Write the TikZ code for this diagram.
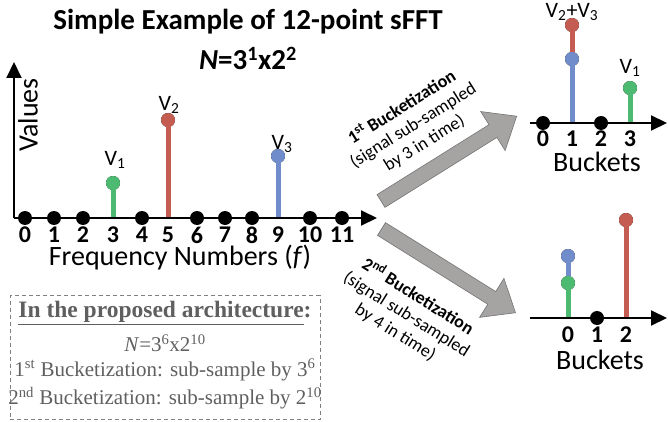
\documentclass[tikz,border=0pt]{standalone}
\usepackage{fontspec}
\setmainfont{Carlito}
\newfontfamily\boxfont{Liberation Serif}
\usetikzlibrary{arrows.meta,positioning}
\definecolor{vred}{RGB}{197,92,82}
\definecolor{vblue}{RGB}{112,140,202}
\definecolor{vgreen}{RGB}{76,186,112}
\definecolor{arrgray}{RGB}{166,163,163}
\definecolor{boxgray}{RGB}{95,95,95}
\begin{document}
\begin{tikzpicture}[x=1pt,y=1pt,
axis/.style={line width=2pt,-{Triangle[length=16pt,width=15pt]}},
dot/.style={circle,fill=black,inner sep=0pt,minimum size=14pt},
stem/.style={line width=5pt},
ticklbl/.style={font=\fontsize{24}{24}\selectfont\bfseries,inner sep=0pt},
vlbl/.style={font=\fontsize{22}{22}\selectfont,inner sep=0pt},
biglbl/.style={font=\fontsize{28}{28}\selectfont,inner sep=0pt},
arrtxt/.style={font=\fontsize{18}{21}\selectfont,align=center,inner sep=0pt},
bigarrow/.style={fill=arrgray,draw=black!55,line width=0.6pt},
boxtxt/.style={font=\boxfont\fontsize{21}{21}\selectfont,text=boxgray,inner sep=0pt}
]
\useasboundingbox (0,0) rectangle (668,421);

% title
\node[font=\fontsize{29}{29}\selectfont\bfseries] (title) at (248,399) {Simple Example of 12-point sFFT};
\node[font=\fontsize{29}{29}\selectfont\bfseries] (nval) at (248,363) {\textit{N}=3\textsuperscript{1}x2\textsuperscript{2}};

% frequency axis
\coordinate (o) at (14,203);
\coordinate (xend) at (377,203);
\coordinate (yend) at (14,359);
\foreach \i/\x in {0/25,1/54,2/83,3/113,4/142,5/168,6/197,7/225,8/252,9/278,10/310,11/342}{
  \coordinate (f\i) at (\x,203);
  \node[ticklbl] (t\i) at (\x,186) {\i};
}
\node[dot] (v1) at (113,238) {};
\node[dot] (v2) at (168,301) {};
\node[dot] (v3) at (278,265) {};
\draw[stem,vgreen] (f3) -- (v1.center);
\draw[stem,vred] (f5) -- (v2.center);
\draw[stem,vblue] (f9) -- (v3.center);
\node[dot,fill=vgreen] at (v1) {};
\node[dot,fill=vred] at (v2) {};
\node[dot,fill=vblue] at (v3) {};
\draw[axis] (o) -- (xend);
\draw[axis] (o) -- (yend);
\foreach \i in {0,1,2,4,6,7,8,10,11}
  \node[dot] (d\i) at (f\i) {};
\node[vlbl] (l1) at (115,261) {V\textsubscript{1}};
\node[vlbl] (l2) at (169,316) {V\textsubscript{2}};
\node[vlbl] (l3) at (282,277) {V\textsubscript{3}};
\node[biglbl] (freq) at (180,163) {Frequency Numbers (\textit{f})};
\node[biglbl,rotate=90] (vals) at (28,306) {Values};

% bucketization arrows
\begin{scope}[shift={(381,220)},rotate=32]
\draw[bigarrow] (0,-7.5) -- (132,-7.5) -- (132,-23) -- (160,0) -- (132,23) -- (132,7.5) -- (0,7.5) -- cycle;
\end{scope}
\begin{scope}[shift={(381.5,192)},rotate=-32]
\draw[bigarrow] (0,-7.5) -- (130,-7.5) -- (130,-23) -- (158,0) -- (130,23) -- (130,7.5) -- (0,7.5) -- cycle;
\end{scope}
\node[arrtxt,rotate=32] (b1txt) at (413,296) {\textbf{1\textsuperscript{st} Bucketization}\\(signal sub-sampled\\by 3 in time)};
\node[arrtxt,rotate=-32] (b2txt) at (407,107) {\textbf{2\textsuperscript{nd} Bucketization}\\(signal sub-sampled\\by 4 in time)};

% first buckets
\coordinate (ao) at (530,298);
\coordinate (aend) at (667,298);
\foreach \i/\x in {0/543,1/572,2/601,3/630}{
  \coordinate (a\i) at (\x,298);
  \node[ticklbl] (at\i) at (\x,282) {\i};
}
\node[dot] (ua) at (572,362) {};
\node[dot] (ub) at (572,396) {};
\node[dot] (uc) at (630,333) {};
\draw[stem,vblue] (a1) -- (ua.center);
\draw[stem,vred] (ua.center) -- (ub.center);
\draw[stem,vgreen] (a3) -- (uc.center);
\node[dot,fill=vred] at (ub) {};
\node[dot,fill=vblue] at (ua) {};
\node[dot,fill=vgreen] at (uc) {};
\draw[axis] (ao) -- (aend);
\node[dot] at (a0) {};
\node[dot] at (a2) {};
\node[vlbl] (ul1) at (572,409) {V\textsubscript{2}+V\textsubscript{3}};
\node[vlbl] (ul2) at (630,353) {V\textsubscript{1}};
\node[biglbl] (bk1) at (597,259) {Buckets};

% second buckets
\coordinate (bo) at (530,103);
\coordinate (bend) at (667,103);
\foreach \i/\x in {0/568,1/597,2/626}{
  \coordinate (c\i) at (\x,103);
  \node[ticklbl] (bt\i) at (\x,86) {\i};
}
\node[dot] (la) at (568,138) {};
\node[dot] (lb) at (568,165) {};
\node[dot] (lc) at (626,201) {};
\draw[stem,vgreen] (c0) -- (la.center);
\draw[stem,vblue] (la.center) -- (lb.center);
\draw[stem,vred] (c2) -- (lc.center);
\node[dot,fill=vblue] at (lb) {};
\node[dot,fill=vgreen] at (la) {};
\node[dot,fill=vred] at (lc) {};
\draw[axis] (bo) -- (bend);
\node[dot] at (c1) {};
\node[biglbl] (bk2) at (600,61) {Buckets};

% proposed architecture box
\node[draw=black!50,dashed,dash pattern=on 4pt off 3pt,line width=0.9pt,minimum width=310pt,minimum height=124pt,inner sep=0pt] (archbox) at (165,63.5) {};
\node[boxtxt,font=\boxfont\fontsize{23.5}{23.5}\selectfont] (a1txt) at (165,108) {\textbf{\underline{In the proposed architecture}:}};
\node[boxtxt] (a2txt) at (165,78) {\textit{N}=3\textsuperscript{6}x2\textsuperscript{10}};
\node[boxtxt] (a3txt) at (165,51) {1\textsuperscript{st} Bucketization: sub-sample by 3\textsuperscript{6}};
\node[boxtxt] (a4txt) at (165,23) {2\textsuperscript{nd} Bucketization: sub-sample by 2\textsuperscript{10}};
\end{tikzpicture}
\end{document}
